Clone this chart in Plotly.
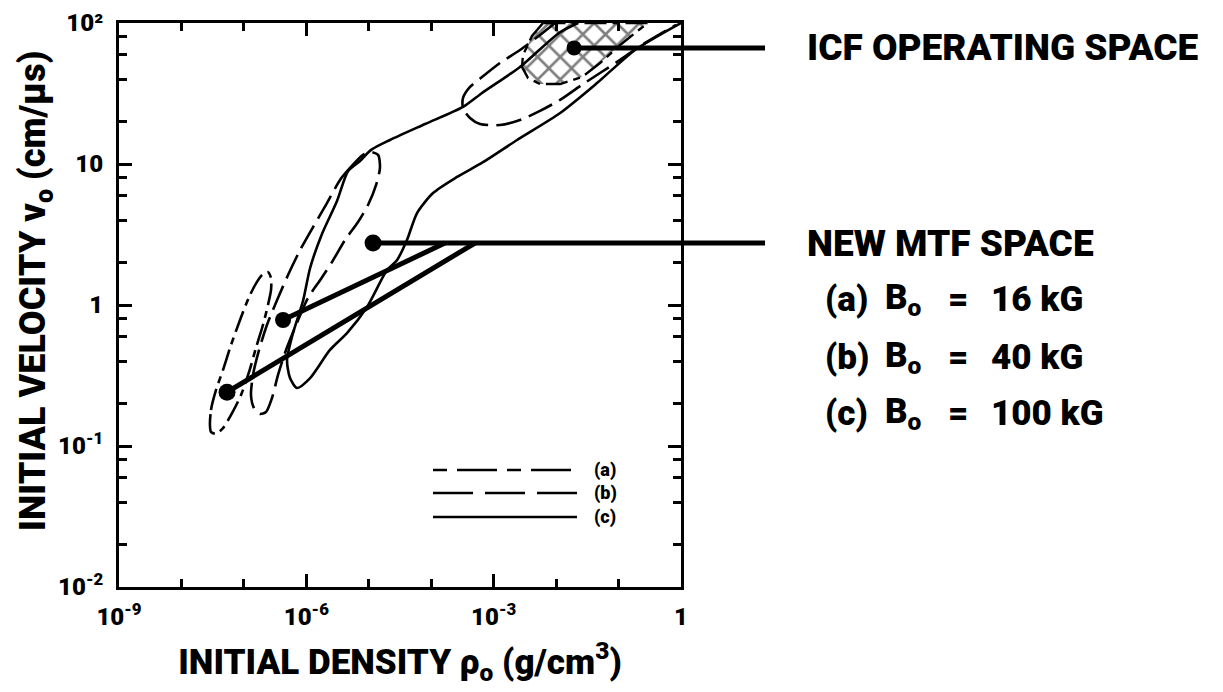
import plotly.graph_objects as go

# ---------------- axis ticks ----------------
x_major = [1e-9, 1e-6, 1e-3, 1]
x_major_text = ["10<sup>-9</sup>", "10<sup>-6</sup>", "10<sup>-3</sup>", "1"]
x_minor = [1e-8, 1e-7, 1e-5, 1e-4, 1e-2, 1e-1]
y_major = [0.01, 0.1, 1, 10, 100]
y_major_text = ["10<sup>-2</sup>", "10<sup>-1</sup>", "1", "10", "10²"]
y_minor = [0.02, 0.04, 0.06, 0.08, 0.2, 0.4, 0.6, 0.8, 2, 4, 6, 8, 20, 40, 60, 80]

# ---------------- curves (density g/cm3, velocity cm/us) ----------------
# (c) B0 = 100 kG, solid envelope
c_rho = [2.24e-2, 1.11e-2, 2.64e-3, 6.52e-4, 3.23e-4, 7.96e-5, 2.19e-5, 1.09e-5, 7.24e-6,
         4.65e-6, 3.10e-6, 1.78e-6, 1.15e-6, 8.85e-7, 6.12e-7, 4.91e-7, 5.48e-7, 7.10e-7,
         1.15e-6, 2.39e-6, 4.48e-6, 9.38e-6, 1.96e-5, 2.83e-5, 4.09e-5, 5.93e-5, 1.07e-4,
         2.59e-4, 6.76e-4, 2.37e-3, 1.16e-2, 4.52e-2, 0.184, 1.0]
c_v = [100, 85, 48.8, 31.9, 25.4, 19.2, 14.8, 12.6, 10.5,
       8.9, 5.47, 3.19, 1.83, 1.07, 0.632, 0.407, 0.303, 0.258,
       0.303, 0.48, 0.632, 0.968, 1.77, 2.08, 2.89, 4.49, 6.22,
       8.09, 10.3, 14.8, 23.0, 37.5, 64.4, 100]

# (b) B0 = 40 kG, long-dash loop
b_rho = [8.09e-6, 5.01e-6, 3.46e-6, 2.14e-6, 1.28e-6, 7.93e-7, 5.09e-7, 3.39e-7, 2.34e-7,
         1.75e-7, 1.40e-7, 1.30e-7, 1.45e-7, 1.81e-7, 2.26e-7, 2.82e-7, 3.52e-7, 4.73e-7,
         6.84e-7, 1.06e-6, 1.66e-6, 2.58e-6, 4.16e-6, 6.73e-6, 9.73e-6, 1.31e-5, 1.51e-5,
         1.41e-5, 1.05e-5, 8.09e-6]
b_v = [11.6, 9.38, 7.71, 5.28, 3.57, 2.45, 1.63, 1.08, 0.721,
       0.480, 0.319, 0.230, 0.186, 0.169, 0.174, 0.219, 0.319, 0.480,
       0.721, 1.12, 1.50, 2.02, 2.89, 3.88, 5.12, 7.10, 9.38,
       11.6, 12.2, 11.6]

# (b) ICF-region long-dash contour
icf_b_rho = [9.62e-3, 5.52e-3, 2.64e-3, 1.26e-3, 6.52e-4, 4.18e-4, 3.23e-4, 3.23e-4, 4.18e-4,
             6.05e-4, 1.26e-3, 2.64e-3, 5.52e-3, 1.16e-2, 2.42e-2, 5.05e-2, 0.106, 0.221,
             0.461, 0.834]
icf_b_v = [100, 82.2, 64.4, 52.0, 41.4, 35.2, 29.4, 24.9, 21.2,
           19.2, 18.9, 20.5, 23.8, 28.5, 35.7, 44.2, 54.7, 68.7,
           83.5, 96.8]

# (a) B0 = 16 kG, dash-dot loop
a_rho = [2.86e-8, 2.97e-8, 3.57e-8, 4.63e-8, 6.22e-8, 8.67e-8, 1.21e-7, 1.62e-7, 2.02e-7,
         2.43e-7, 2.72e-7, 2.72e-7, 2.43e-7, 2.02e-7, 1.56e-7, 1.21e-7, 9.0e-8, 6.46e-8,
         4.63e-8, 3.57e-8, 2.97e-8, 2.86e-8]
a_v = [0.141, 0.180, 0.249, 0.346, 0.520, 0.783, 1.14, 1.46, 1.66,
       1.71, 1.55, 1.28, 1.0, 0.721, 0.496, 0.335, 0.230, 0.171,
       0.134, 0.122, 0.126, 0.141]

# ICF operating space (cross-hatched)
hatch_rho = [6.17e-3, 4.11e-3, 2.95e-3, 2.84e-3, 3.55e-3, 5.52e-3, 1.16e-2, 2.60e-2, 5.05e-2,
             0.106, 0.221, 0.296, 6.17e-3]
hatch_v = [100, 80.9, 59.3, 48.8, 40.7, 36.9, 36.9, 41.4, 52.0,
           69.8, 90.6, 100, 100]

# pointer dots: ICF, MTF (c), MTF (b), MTF (a)
dot_rho = [1.94e-2, 1.17e-5, 4.24e-7, 5.37e-8]
dot_v = [66.6, 2.75, 0.783, 0.241]
icf_level = 66.6
mtf_level = 2.75
bracket_end_rho = [1.66e-4, 5.02e-4]   # where (b) and (a) pointers meet the MTF line

BLACK = "#000000"
FONT = "Roboto, Liberation Sans, Arial, sans-serif"
WEIGHT = 900

DASH_A_CURVE = "22px,6px,7px,6px"
DASH_B_CURVE = "26px,8px"
DASH_A_LEG = "14px,10px,40px,10px"
DASH_B_LEG = "40px,12px"

fig = go.Figure()

def curve(x, y, dash, width=2.6, smooth=0.7):
    fig.add_trace(go.Scatter(x=x, y=y, mode="lines",
                             line=dict(color=BLACK, width=width, dash=dash,
                                       shape="spline", smoothing=smooth),
                             showlegend=False, hoverinfo="skip"))

# hatched ICF space
fig.add_trace(go.Scatter(x=hatch_rho, y=hatch_v, mode="lines", fill="toself",
                         fillcolor="rgba(0,0,0,0)",
                         fillpattern=dict(shape="x", size=16, solidity=0.3,
                                          fgcolor=BLACK, bgcolor="white"),
                         line=dict(color=BLACK, width=2.4, dash=DASH_A_CURVE),
                         showlegend=False, hoverinfo="skip"))

curve(c_rho, c_v, "solid")
curve(b_rho, b_v, DASH_B_CURVE)
curve(icf_b_rho, icf_b_v, DASH_B_CURVE)
curve(a_rho, a_v, DASH_A_CURVE)

# pointer lines
def thick(x, y):
    fig.add_trace(go.Scatter(x=x, y=y, mode="lines", line=dict(color=BLACK, width=5),
                             showlegend=False, hoverinfo="skip"))

thick([dot_rho[0], 1], [icf_level, icf_level])
thick([dot_rho[1], 1], [mtf_level, mtf_level])
thick([dot_rho[2], bracket_end_rho[0]], [dot_v[2], mtf_level])
thick([dot_rho[3], bracket_end_rho[1]], [dot_v[3], mtf_level])
fig.add_trace(go.Scatter(x=dot_rho, y=dot_v, mode="markers",
                         marker=dict(color=BLACK, opacity=1, size=[15, 17, 16, 17],
                                     line=dict(width=0)),
                         showlegend=False, hoverinfo="skip", cliponaxis=False))

# leader extensions outside the frame
for lvl in (icf_level, mtf_level):
    fig.add_shape(type="line", xref="paper", yref="y", x0=1.0, x1=1.1495, y0=lvl, y1=lvl,
                  line=dict(color=BLACK, width=5))

# in-plot legend
leg_items = [("(a)", DASH_A_LEG, 0.2074), ("(b)", DASH_B_LEG, 0.1667), ("(c)", "solid", 0.1241)]
for lab, dash, yp in leg_items:
    fig.add_shape(type="line", xref="paper", yref="paper", x0=0.5587, x1=0.8149, y0=yp, y1=yp,
                  line=dict(color=BLACK, width=2.6, dash=dash))
    fig.add_annotation(xref="paper", yref="paper", x=0.8416, y=yp, text=lab, showarrow=False,
                       xanchor="left", yanchor="middle",
                       font=dict(family=FONT, size=18, color=BLACK, weight=WEIGHT))

# right-hand labels
big = dict(family=FONT, size=37, color=BLACK, weight=WEIGHT)
fig.add_annotation(xref="paper", yref="paper", x=1.2206, y=0.9557, text="ICF OPERATING SPACE",
                   showarrow=False, xanchor="left", yanchor="middle", font=big)
fig.add_annotation(xref="paper", yref="paper", x=1.2206, y=0.6099, text="NEW MTF SPACE",
                   showarrow=False, xanchor="left", yanchor="middle", font=big)
rows = [("(a)", "16 kG", 0.5089), ("(b)", "40 kG", 0.4078), ("(c)", "100 kG", 0.3085)]
med = dict(family=FONT, size=35, color=BLACK, weight=WEIGHT)
for lab, val, yp in rows:
    fig.add_annotation(xref="paper", yref="paper", x=1.2527, y=yp, text=lab,
                       showarrow=False, xanchor="left", yanchor="middle", font=med)
    fig.add_annotation(xref="paper", yref="paper", x=1.3594, y=yp, text="B<sub>o</sub>",
                       showarrow=False, xanchor="left", yanchor="middle", font=med)
    fig.add_annotation(xref="paper", yref="paper", x=1.4715, y=yp, text="=",
                       showarrow=False, xanchor="left", yanchor="middle", font=med)
    fig.add_annotation(xref="paper", yref="paper", x=1.5480, y=yp, text=val,
                       showarrow=False, xanchor="left", yanchor="middle", font=med)

# y-axis title (placed slightly above the axis centre, as in the original)
fig.add_annotation(xref="paper", yref="paper", x=-0.1477, y=0.525, textangle=-90,
                   text="INITIAL VELOCITY v<sub>o</sub> (cm/μs)", showarrow=False,
                   xanchor="center", yanchor="middle",
                   font=dict(family=FONT, size=36, color=BLACK, weight=WEIGHT))

axis_common = dict(type="log", showgrid=False, zeroline=False, showline=True,
                   linecolor=BLACK, linewidth=3, mirror="ticks", ticks="inside",
                   tickcolor=BLACK, tickwidth=3, ticklen=13, ticklabeloverflow="allow",
                   automargin=False,
                   tickfont=dict(family=FONT, size=24, color=BLACK, weight=WEIGHT))

fig.update_xaxes(**axis_common, range=[-9, 0], tickmode="array", tickvals=x_major,
                 ticktext=x_major_text, ticklabelstandoff=6,
                 minor=dict(tickmode="array", tickvals=x_minor, ticks="inside", ticklen=8,
                            tickwidth=3, tickcolor=BLACK, showgrid=False),
                 title=dict(text="INITIAL DENSITY ρ<sub>o</sub> (g/cm<sup>3</sup>)", standoff=20,
                            font=dict(family=FONT, size=35, color=BLACK, weight=WEIGHT)))
fig.update_yaxes(**axis_common, range=[-2, 2], tickmode="array", tickvals=y_major,
                 ticktext=y_major_text, ticklabelstandoff=8,
                 minor=dict(tickmode="array", tickvals=y_minor, ticks="inside", ticklen=8,
                            tickwidth=3, tickcolor=BLACK, showgrid=False))

# the page adds an 8px body margin, so the figure margins are reduced by 8px
fig.update_layout(width=1223, height=692, autosize=False,
                  margin=dict(l=111, r=550, t=15, b=113),
                  paper_bgcolor="white", plot_bgcolor="white",
                  showlegend=False)

fig.write_html("out.html")
